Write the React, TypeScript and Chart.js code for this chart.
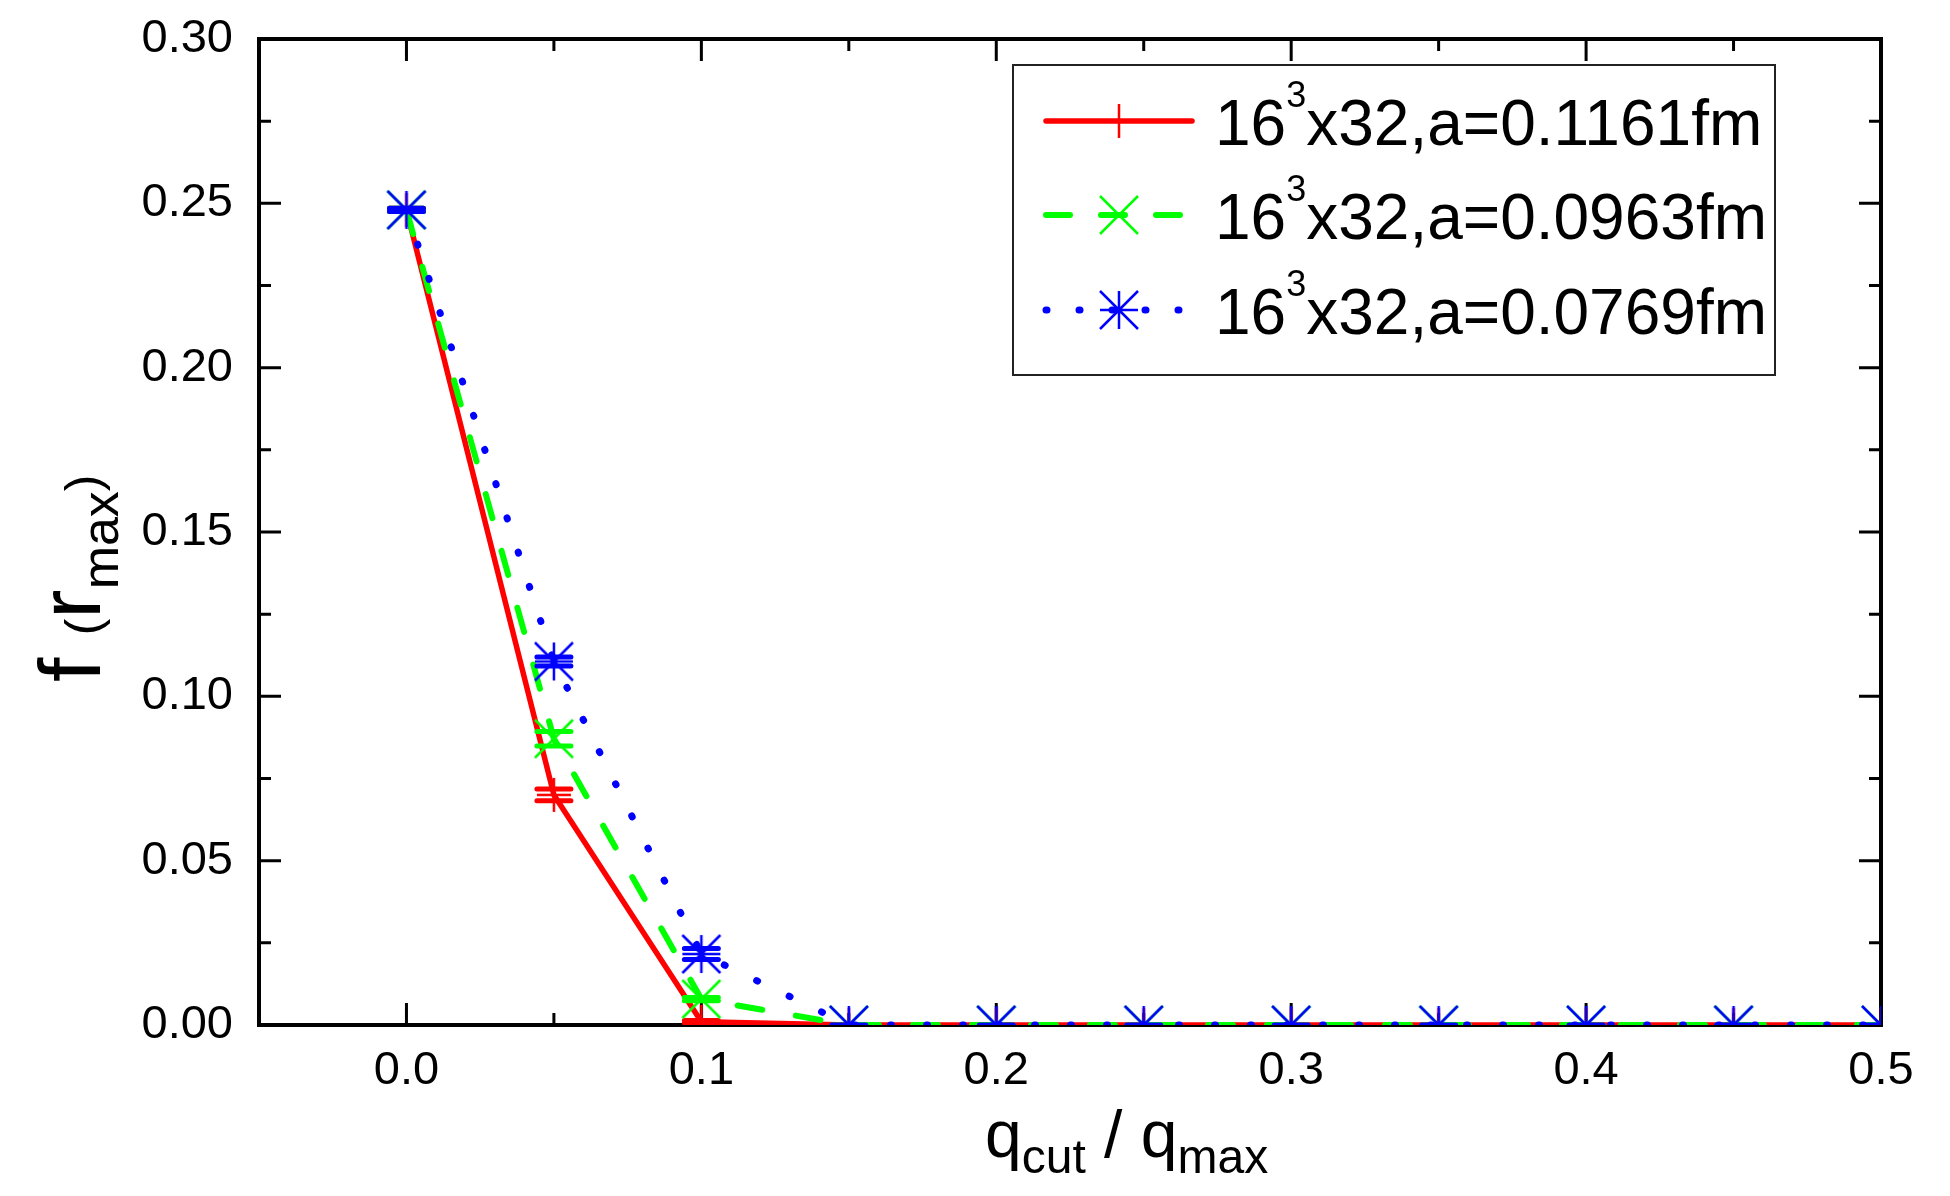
import React, { useEffect, useRef } from 'react';
import { Chart, registerables } from 'chart.js';

Chart.register(...registerables);

const FONT = "'Liberation Sans', Arial, Helvetica, sans-serif";

// ---- data ----
const Q_RATIO = [0, 0.05, 0.1, 0.15, 0.2, 0.25, 0.3, 0.35, 0.4, 0.45, 0.5];
const F_A1161 = [0.248, 0.070, 0.001, 0, 0, 0, 0, 0, 0, 0, 0];
const ERR_A1161 = [0.0005, 0.0018, 0.0004, 0, 0, 0, 0, 0, 0, 0, 0];
const F_A0963 = [0.248, 0.0871, 0.0079, 0, 0, 0, 0, 0, 0, 0, 0];
const ERR_A0963 = [0.0005, 0.0022, 0.0005, 0, 0, 0, 0, 0, 0, 0, 0];
const F_A0769 = [0.248, 0.1106, 0.0216, 0, 0, 0, 0, 0, 0, 0, 0];
const ERR_A0769 = [0.0005, 0.0014, 0.0017, 0, 0, 0, 0, 0, 0, 0, 0];

const X_TICKS = [0, 0.1, 0.2, 0.3, 0.4, 0.5];
const X_MINOR = [0.05, 0.15, 0.25, 0.35, 0.45];
const Y_TICKS = [0, 0.05, 0.1, 0.15, 0.2, 0.25, 0.3];
const Y_MINOR = [0.025, 0.075, 0.125, 0.175, 0.225, 0.275];

const LEGEND_BASE = ['16', '16', '16'];
const LEGEND_SUP = ['3', '3', '3'];
const LEGEND_REST = ['x32,a=0.1161fm', 'x32,a=0.0963fm', 'x32,a=0.0769fm'];

const Y_TITLE_PARTS = [
  { text: 'f', size: 88, shift: 0 },
  { text: ' ', size: 80, shift: 0 },
  { text: '(', size: 50, shift: 0 },
  { text: 'r', size: 88, shift: 0 },
  { text: 'max', size: 52, shift: 18 },
  { text: ')', size: 50, shift: 0 },
];
const X_TITLE_PARTS = [
  { text: 'q', size: 66, shift: 0 },
  { text: 'cut', size: 48, shift: 16 },
  { text: ' / ', size: 66, shift: 0 },
  { text: 'q', size: 66, shift: 0 },
  { text: 'max', size: 48, shift: 16 },
];

function makeMarker(kind: string, color: string, size: number, lw: number) {
  const c = document.createElement('canvas');
  c.width = size + 4;
  c.height = size + 4;
  const ctx = c.getContext('2d') as CanvasRenderingContext2D;
  ctx.strokeStyle = color;
  ctx.lineWidth = lw;
  const m = c.width / 2;
  const h = size / 2;
  ctx.beginPath();
  if (kind === 'plus' || kind === 'star') {
    ctx.moveTo(m, m - h);
    ctx.lineTo(m, m + h);
    ctx.moveTo(m - h, m);
    ctx.lineTo(m + h, m);
  }
  if (kind === 'x' || kind === 'star') {
    ctx.moveTo(m - h, m - h);
    ctx.lineTo(m + h, m + h);
    ctx.moveTo(m + h, m - h);
    ctx.lineTo(m - h, m + h);
  }
  ctx.stroke();
  return c;
}

export default function App() {
  const ref = useRef<HTMLCanvasElement | null>(null);

  useEffect(() => {
    const canvas = ref.current;
    if (!canvas) return;

    const lineColors = ['#ff0000', '#00ff00', '#0000ff'];
    const markers = [
      makeMarker('plus', lineColors[0], 34, 2.5),
      makeMarker('x', lineColors[1], 38, 2.5),
      makeMarker('star', lineColors[2], 38, 2.5),
    ];
    const seriesValues = [F_A1161, F_A0963, F_A0769];
    const seriesErrors = [ERR_A1161, ERR_A0963, ERR_A0769];
    const dashes = [[], [25, 34], [1, 35]];
    const legendDashes = [[], [24, 31], [1, 32]];
    const widths = [5.5, 6, 7];

    const datasets = seriesValues.map((vals, k) => ({
      label: LEGEND_BASE[k] + LEGEND_SUP[k] + LEGEND_REST[k],
      data: Q_RATIO.map((x, i) => ({ x, y: vals[i] })),
      errors: seriesErrors[k],
      borderColor: lineColors[k],
      backgroundColor: lineColors[k],
      borderWidth: widths[k],
      borderDash: dashes[k],
      borderCapStyle: 'round',
      borderJoinStyle: 'round',
      pointStyle: markers[k],
      pointRadius: 18,
      pointHoverRadius: 18,
      tension: 0,
      fill: false,
      clip: 0,
      order: 3 - k,
    }));

    const framePlugin = {
      id: 'frame',
      beforeDatasetsDraw(chart: any) {
        const { ctx, chartArea: ca, scales } = chart;
        ctx.save();
        ctx.strokeStyle = '#000';
        ctx.lineWidth = 4;
        ctx.strokeRect(ca.left, ca.top, ca.right - ca.left, ca.bottom - ca.top);
        ctx.lineWidth = 3;
        ctx.beginPath();
        const xt = (vals: number[], len: number) => {
          vals.forEach((v) => {
            const px = scales.x.getPixelForValue(v);
            ctx.moveTo(px, ca.bottom);
            ctx.lineTo(px, ca.bottom - len);
            ctx.moveTo(px, ca.top);
            ctx.lineTo(px, ca.top + len);
          });
        };
        const yt = (vals: number[], len: number) => {
          vals.forEach((v) => {
            const py = scales.y.getPixelForValue(v);
            ctx.moveTo(ca.left, py);
            ctx.lineTo(ca.left + len, py);
            ctx.moveTo(ca.right, py);
            ctx.lineTo(ca.right - len, py);
          });
        };
        xt(X_TICKS, 22);
        xt(X_MINOR, 12);
        yt(Y_TICKS, 22);
        yt(Y_MINOR, 12);
        ctx.stroke();
        ctx.restore();
      },
    };

    const errorPlugin = {
      id: 'errbars',
      afterDatasetDraw(chart: any, args: any) {
        const { ctx, chartArea: ca, scales } = chart;
        const ds = chart.data.datasets[args.index];
        const meta = args.meta;
        ctx.save();
        ctx.beginPath();
        ctx.rect(ca.left, ca.top, ca.right - ca.left, ca.bottom - ca.top);
        ctx.clip();
        ctx.strokeStyle = ds.borderColor;
        meta.data.forEach((pt: any, i: number) => {
          const v = ds.data[i].y;
          const e = ds.errors[i];
          const yTop = scales.y.getPixelForValue(v + e);
          const yBot = scales.y.getPixelForValue(v - e);
          ctx.lineWidth = 2.5;
          ctx.beginPath();
          ctx.moveTo(pt.x, yTop);
          ctx.lineTo(pt.x, yBot);
          ctx.stroke();
          ctx.lineWidth = 5;
          ctx.lineCap = 'round';
          ctx.beginPath();
          ctx.moveTo(pt.x - 17, yTop);
          ctx.lineTo(pt.x + 17, yTop);
          ctx.moveTo(pt.x - 17, yBot);
          ctx.lineTo(pt.x + 17, yBot);
          ctx.stroke();
        });
        ctx.restore();
      },
    };

    const textPlugin = {
      id: 'texts',
      afterDraw(chart: any) {
        const { ctx } = chart;
        ctx.save();
        ctx.fillStyle = '#000';
        ctx.textAlign = 'left';
        ctx.textBaseline = 'alphabetic';

        // y title (rotated)
        ctx.save();
        ctx.translate(100, 682);
        ctx.rotate(-Math.PI / 2);
        let px = 0;
        Y_TITLE_PARTS.forEach((p) => {
          ctx.font = `${p.size}px ${FONT}`;
          ctx.fillText(p.text, px, p.shift);
          px += ctx.measureText(p.text).width;
        });
        ctx.restore();

        // x title
        px = 985;
        X_TITLE_PARTS.forEach((p) => {
          ctx.font = `${p.size}px ${FONT}`;
          ctx.fillText(p.text, px, 1157 + p.shift);
          px += ctx.measureText(p.text).width;
        });

        // legend
        const bx = 1013, by = 65, bw = 762, bh = 310;
        ctx.fillStyle = '#fff';
        ctx.fillRect(bx, by, bw, bh);
        ctx.strokeStyle = '#222';
        ctx.lineWidth = 2;
        ctx.strokeRect(bx, by, bw, bh);
        const rowY = [121, 215, 310];
        for (let k = 0; k < 3; k++) {
          const y = rowY[k];
          ctx.save();
          ctx.strokeStyle = lineColors[k];
          ctx.lineWidth = widths[k];
          ctx.lineCap = 'round';
          ctx.setLineDash(legendDashes[k]);
          ctx.beginPath();
          ctx.moveTo(1046, y);
          ctx.lineTo(1192, y);
          ctx.stroke();
          ctx.restore();
          const mk = markers[k];
          ctx.drawImage(mk, Math.round(1119 - mk.width / 2), Math.round(y - mk.height / 2));
          ctx.fillStyle = '#000';
          let tx = 1215;
          const base = y + 24;
          ctx.font = `64px ${FONT}`;
          ctx.fillText(LEGEND_BASE[k], tx, base);
          tx += ctx.measureText(LEGEND_BASE[k]).width;
          ctx.font = `36px ${FONT}`;
          ctx.fillText(LEGEND_SUP[k], tx, base - 38);
          tx += ctx.measureText(LEGEND_SUP[k]).width;
          ctx.font = `64px ${FONT}`;
          ctx.fillText(LEGEND_REST[k], tx, base);
        }
        ctx.restore();
      },
    };

    const chart = new Chart(canvas, {
      type: 'line',
      data: { datasets: datasets as any },
      options: {
        animation: false,
        responsive: false,
        maintainAspectRatio: false,
        devicePixelRatio: 1,
        events: [],
        layout: { padding: { top: 39, right: 69, left: 0, bottom: 0 } },
        plugins: {
          legend: { display: false },
          tooltip: { enabled: false },
          title: { display: false },
        },
        scales: {
          x: {
            type: 'linear',
            min: -0.05,
            max: 0.5,
            grid: { display: false, drawTicks: false },
            border: { display: false },
            afterBuildTicks: (scale: any) => {
              scale.ticks = X_TICKS.map((v) => ({ value: v }));
            },
            afterFit: (scale: any) => {
              scale.height = 171;
              scale.paddingLeft = 0;
              scale.paddingRight = 0;
            },
            ticks: {
              autoSkip: false,
              maxRotation: 0,
              padding: 18,
              color: '#000',
              font: { family: FONT, size: 47 },
              callback: (v: any) => Number(v).toFixed(1),
            },
          },
          y: {
            type: 'linear',
            min: 0,
            max: 0.3,
            grid: { display: false, drawTicks: false },
            border: { display: false },
            afterBuildTicks: (scale: any) => {
              scale.ticks = Y_TICKS.map((v) => ({ value: v }));
            },
            afterFit: (scale: any) => {
              scale.width = 259;
              scale.paddingTop = 0;
              scale.paddingBottom = 0;
            },
            ticks: {
              autoSkip: false,
              padding: 26,
              color: '#000',
              font: { family: FONT, size: 47 },
              callback: (v: any) => Number(v).toFixed(2),
            },
          },
        },
      } as any,
      plugins: [framePlugin, errorPlugin, textPlugin],
    });

    return () => {
      chart.destroy();
    };
  }, []);

  return (
    <div style={{ position: 'absolute', left: 0, top: 0, width: 1950, height: 1196, background: '#fff' }}>
      <canvas ref={ref} width={1950} height={1196} style={{ display: 'block' }} />
    </div>
  );
}
